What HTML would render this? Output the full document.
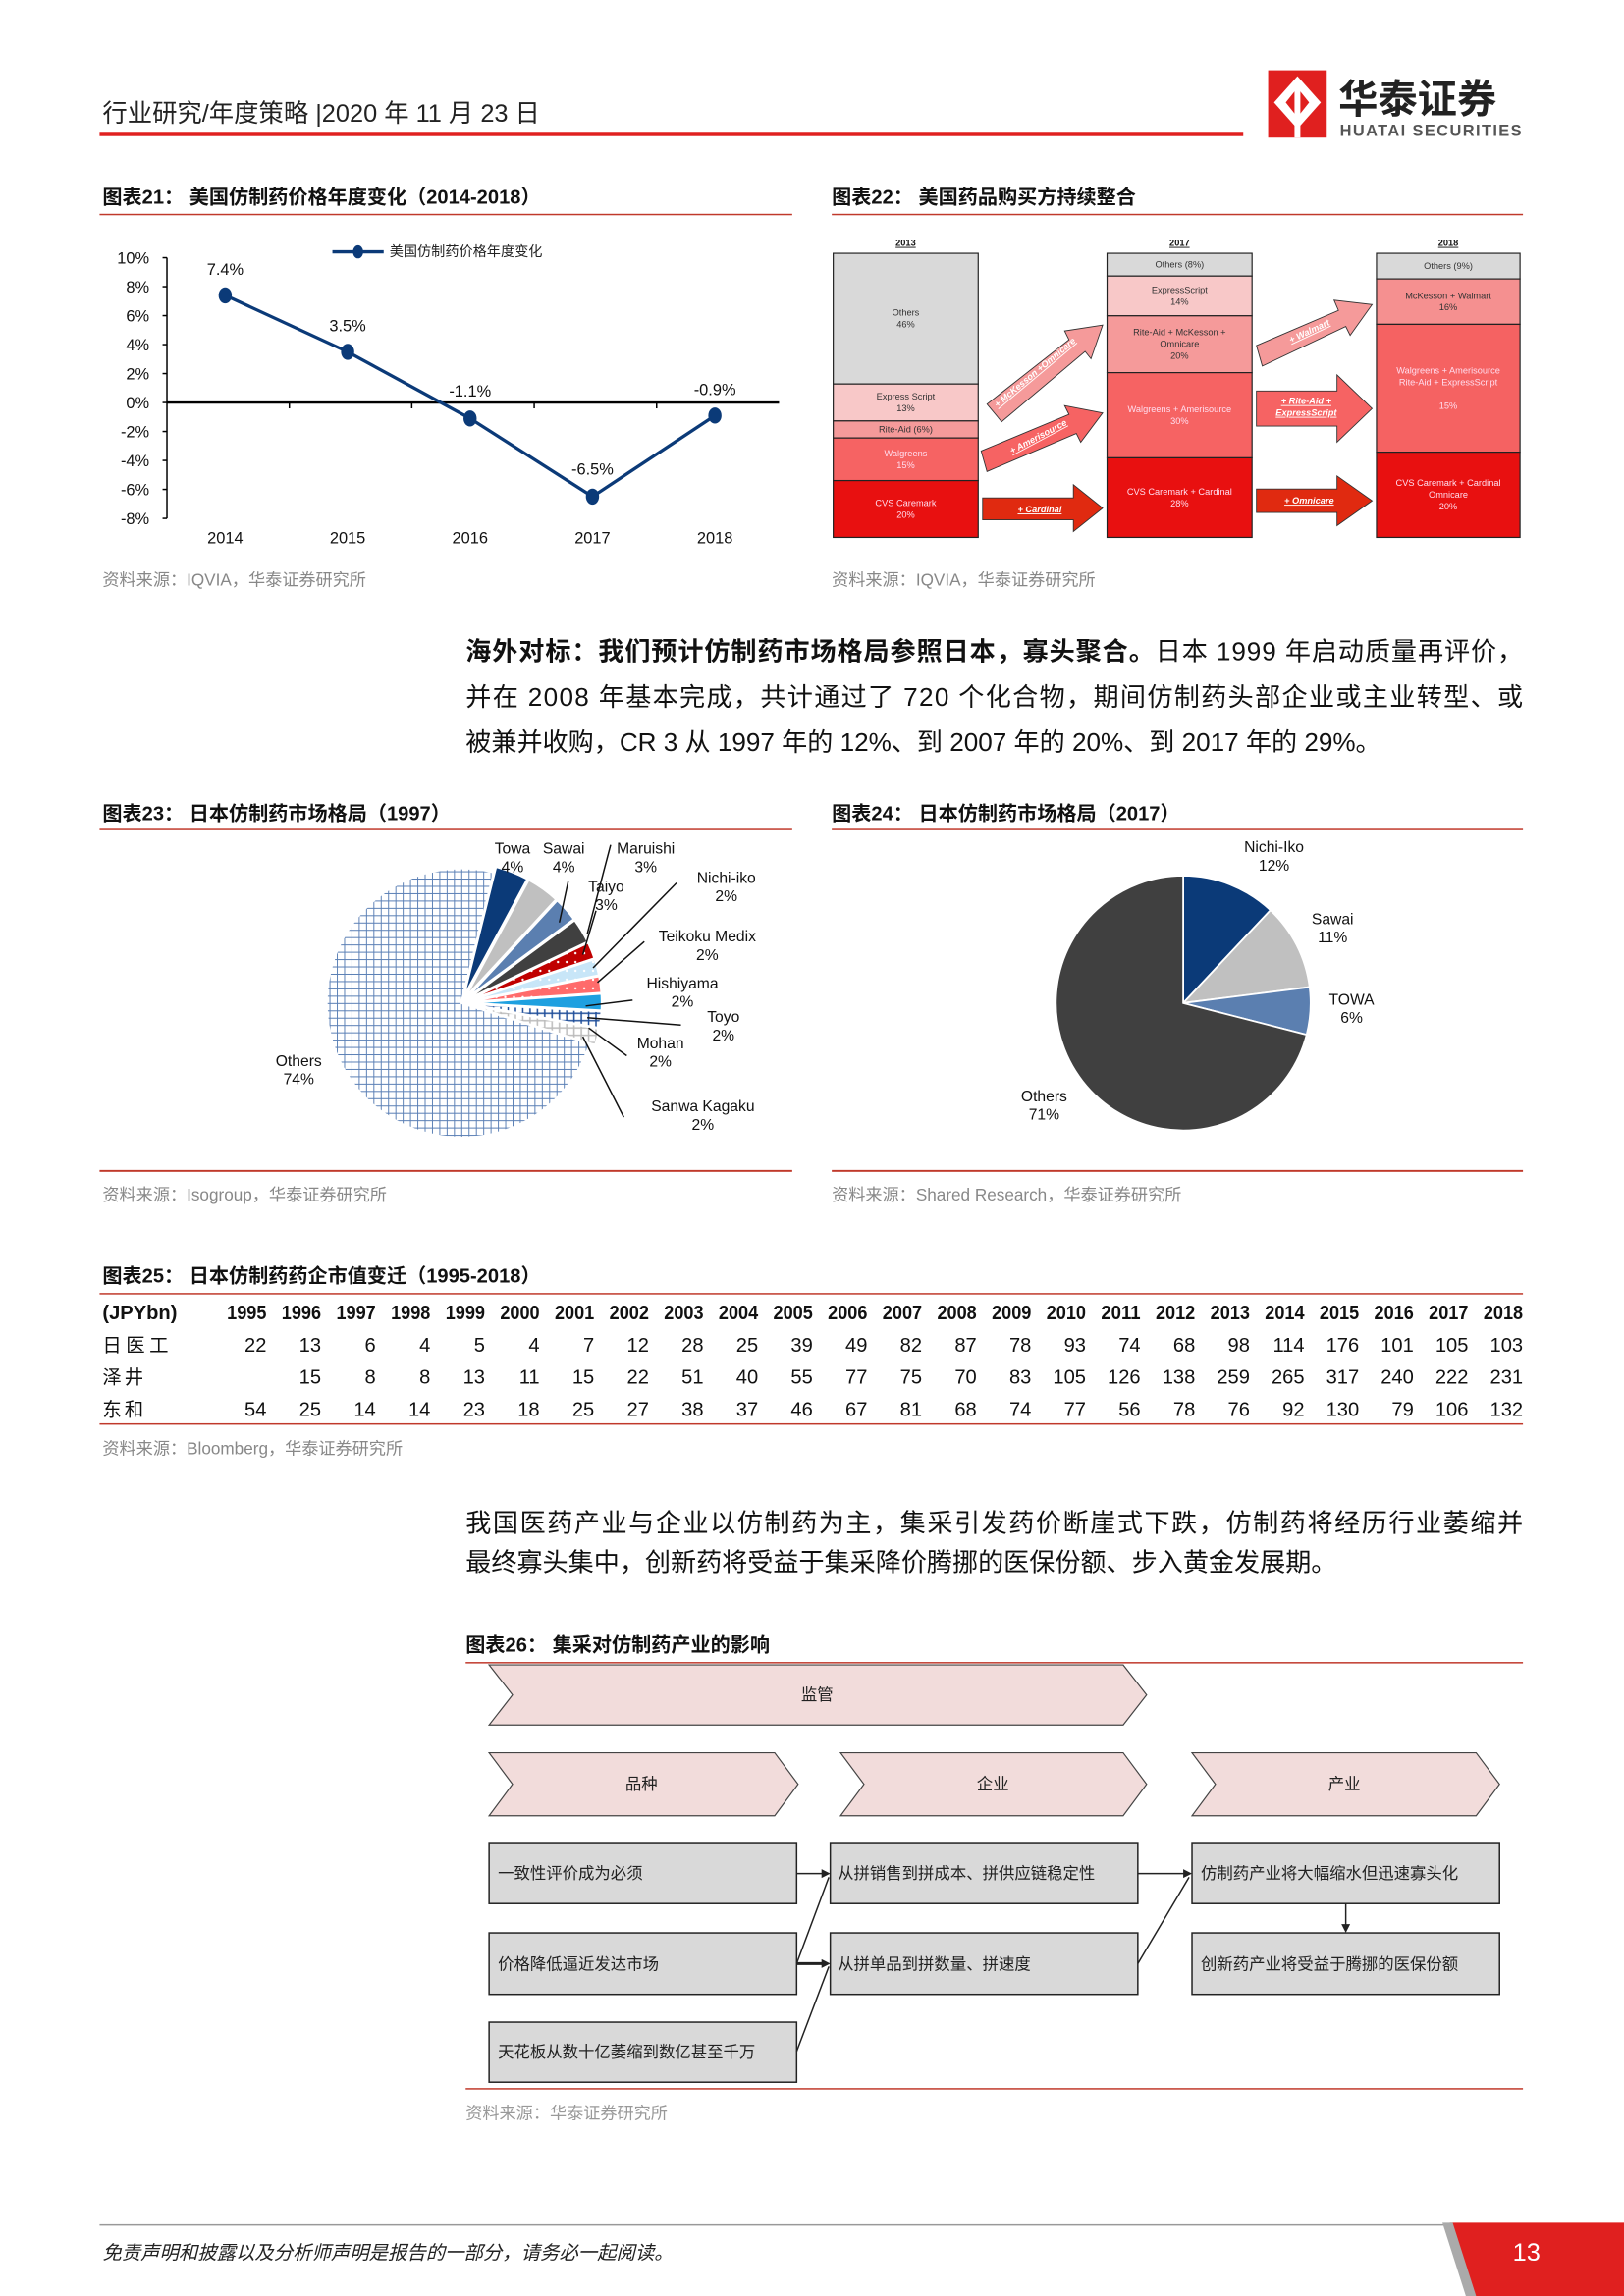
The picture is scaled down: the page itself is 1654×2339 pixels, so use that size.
<!DOCTYPE html>
<html><head><meta charset="utf-8">
<style>
html,body{margin:0;padding:0;background:#fff;}
svg{display:block;}
text{font-family:"Liberation Sans","Noto Sans CJK SC",sans-serif;}
</style></head>
<body>
<svg id="page" width="1654" height="2339" viewBox="0 0 1109 1568" preserveAspectRatio="none" xmlns="http://www.w3.org/2000/svg">
<defs>
  <pattern id="grid" width="5" height="5" patternUnits="userSpaceOnUse">
    <rect width="5" height="5" fill="#fff"/><path d="M0 0H5M0 0V5" stroke="#5a7fb5" stroke-width="1.3"/>
  </pattern>
  <pattern id="dotsRed" width="6" height="6" patternUnits="userSpaceOnUse"><rect width="6" height="6" fill="#c00000"/><circle cx="3" cy="3" r="0.8" fill="#fff"/></pattern>
  <pattern id="dotsPink" width="6" height="6" patternUnits="userSpaceOnUse"><rect width="6" height="6" fill="#ff6b6b"/><circle cx="3" cy="3" r="0.8" fill="#fff"/></pattern>
  <pattern id="dotsLb" width="6" height="6" patternUnits="userSpaceOnUse"><rect width="6" height="6" fill="#c8e6f8"/><circle cx="3" cy="3" r="0.8" fill="#fff"/></pattern>
  <pattern id="hBlue" width="5" height="5" patternUnits="userSpaceOnUse"><rect width="5" height="5" fill="#fff"/><path d="M0 2H5M2 0V5" stroke="#1f4e9a" stroke-width="1"/></pattern>
  <pattern id="hGray" width="5" height="5" patternUnits="userSpaceOnUse"><rect width="5" height="5" fill="#fff"/><path d="M0 2H5M2 0V5" stroke="#bbb" stroke-width="1"/></pattern>
</defs>

<!-- Header -->
<g>
  <text x="70" y="83" font-size="17" fill="#222">行业研究/年度策略 |2020 年 11 月 23 日</text>
  <rect x="68" y="90" width="781" height="3" fill="#e0201f"/>
  <g>
    <rect x="866" y="48" width="40" height="46" fill="#e0201f"/>
    <path d="M870 70 L886 52 L902 70 L886 88Z" fill="#fff"/>
    <path d="M878 70 L886 60 L894 70 L886 80Z" fill="#e0201f"/>
    <rect x="884" y="60" width="4" height="34" fill="#fff"/>
    <text x="914" y="77" font-size="27" font-weight="bold" fill="#222" font-family="'Noto Sans CJK SC',sans-serif">华泰证券</text>
    <text x="915" y="93" font-size="11" font-weight="bold" fill="#555" textLength="124">HUATAI SECURITIES</text>
  </g>
</g>

<!-- Fig 21 / 22 titles -->
<text x="70" y="139" font-size="13.5" font-weight="bold" fill="#111">图表21：  美国仿制药价格年度变化（2014-2018）</text>
<rect x="68" y="146" width="473" height="1" fill="#c0392b"/>
<text x="568" y="139" font-size="13.5" font-weight="bold" fill="#111">图表22：  美国药品购买方持续整合</text>
<rect x="568" y="146" width="472" height="1" fill="#c0392b"/>

<g id="lineChart"></g>

<!-- Fig 22 stacked columns -->
<g id="buyerChart" font-size="6.2"></g>

<text x="70" y="400" font-size="11.5" fill="#888">资料来源：IQVIA，华泰证券研究所</text>
<text x="568" y="400" font-size="11.5" fill="#888">资料来源：IQVIA，华泰证券研究所</text>

<!-- paragraph 1 -->
<g font-size="17.5" fill="#111">
  <text x="318" y="451" textLength="722" lengthAdjust="spacing"><tspan font-weight="bold">海外对标：我们预计仿制药市场格局参照日本，寡头聚合。</tspan>日本 1999 年启动质量再评价，</text>
  <text x="318" y="482" textLength="722" lengthAdjust="spacing">并在 2008 年基本完成，共计通过了 720 个化合物，期间仿制药头部企业或主业转型、或</text>
  <text x="318" y="513">被兼并收购，CR 3 从 1997 年的 12%、到 2007 年的 20%、到 2017 年的 29%。</text>
</g>

<text x="70" y="560" font-size="13.5" font-weight="bold" fill="#111">图表23：  日本仿制药市场格局（1997）</text>
<rect x="68" y="566" width="473" height="1" fill="#c0392b"/>
<text x="568" y="560" font-size="13.5" font-weight="bold" fill="#111">图表24：  日本仿制药市场格局（2017）</text>
<rect x="568" y="566" width="472" height="1" fill="#c0392b"/>

<g id="pie97"></g>
<g id="pie17"></g>

<rect x="68" y="799" width="473" height="1.3" fill="#c0392b"/>
<rect x="568" y="799" width="472" height="1.3" fill="#c0392b"/>
<text x="70" y="820" font-size="11.5" fill="#888">资料来源：Isogroup，华泰证券研究所</text>
<text x="568" y="820" font-size="11.5" fill="#888">资料来源：Shared Research，华泰证券研究所</text>

<text x="70" y="876" font-size="13.5" font-weight="bold" fill="#111">图表25：  日本仿制药药企市值变迁（1995-2018）</text>
<rect x="68" y="883" width="972" height="1" fill="#c0392b"/>
<g id="table25"></g>
<rect x="68" y="972" width="972" height="1" fill="#c0392b"/>
<text x="70" y="993" font-size="11.5" fill="#888">资料来源：Bloomberg，华泰证券研究所</text>

<g font-size="17.5" fill="#111">
  <text x="318" y="1046" textLength="722" lengthAdjust="spacing">我国医药产业与企业以仿制药为主，集采引发药价断崖式下跌，仿制药将经历行业萎缩并</text>
  <text x="318" y="1073">最终寡头集中，创新药将受益于集采降价腾挪的医保份额、步入黄金发展期。</text>
</g>

<text x="318" y="1128" font-size="13.5" font-weight="bold" fill="#111">图表26：  集采对仿制药产业的影响</text>
<rect x="318" y="1135" width="722" height="1" fill="#c0392b"/>

<g font-size="11" fill="#222">
  <g>
    <polygon points="334,1137 767,1137 783,1157.5 767,1178 334,1178 350,1157.5" fill="#f2dcdb" stroke="#444" stroke-width="0.8"/>
    <text x="558" y="1161" text-anchor="middle">监管</text>
  </g>
  <g>
    <polygon points="334,1197 529,1197 545,1218.5 529,1240 334,1240 350,1218.5" fill="#f2dcdb" stroke="#444" stroke-width="0.8"/>
    <text x="438" y="1222" text-anchor="middle">品种</text>
  </g>
  <g>
    <polygon points="574,1197 767,1197 783,1218.5 767,1240 574,1240 590,1218.5" fill="#f2dcdb" stroke="#444" stroke-width="0.8"/>
    <text x="678" y="1222" text-anchor="middle">企业</text>
  </g>
  <g>
    <polygon points="814,1197 1008,1197 1024,1218.5 1008,1240 814,1240 830,1218.5" fill="#f2dcdb" stroke="#444" stroke-width="0.8"/>
    <text x="918" y="1222" text-anchor="middle">产业</text>
  </g>
  <g stroke="#222" stroke-width="1" fill="#d9d9d9">
    <rect x="334" y="1259" width="210" height="41"/>
    <rect x="567" y="1259" width="210" height="41"/>
    <rect x="814" y="1259" width="210" height="41"/>
    <rect x="334" y="1320" width="210" height="42"/>
    <rect x="567" y="1320" width="210" height="42"/>
    <rect x="814" y="1320" width="210" height="42"/>
    <rect x="334" y="1381" width="210" height="41"/>
  </g>
  <text x="340" y="1283">一致性评价成为必须</text>
  <text x="572" y="1283">从拼销售到拼成本、拼供应链稳定性</text>
  <text x="820" y="1283">仿制药产业将大幅缩水但迅速寡头化</text>
  <text x="340" y="1345">价格降低逼近发达市场</text>
  <text x="572" y="1345">从拼单品到拼数量、拼速度</text>
  <text x="820" y="1345">创新药产业将受益于腾挪的医保份额</text>
  <text x="340" y="1405">天花板从数十亿萎缩到数亿甚至千万</text>
  <g stroke="#222" stroke-width="1" fill="none">
    <path d="M544 1279.5H564"/><path d="M544 1341H564" stroke-width="2"/>
    <path d="M544 1341L566 1282"/><path d="M544 1401L566 1343"/>
    <path d="M777 1279.5H811"/><path d="M777 1341L812 1282"/>
    <path d="M919 1300V1316"/>
  </g>
  <g fill="#222">
    <polygon points="567,1279.5 561,1276.5 561,1282.5"/>
    <polygon points="567,1341 561,1338 561,1344"/>
    <polygon points="814,1279.5 808,1276.5 808,1282.5"/>
    <polygon points="919,1320 916,1314 922,1314"/>
  </g>
</g>
<rect x="318" y="1426" width="722" height="1" fill="#c0392b"/>
<text x="318" y="1447" font-size="11.5" fill="#999">资料来源：华泰证券研究所</text>

<!-- footer -->
<g>
  <rect x="68" y="1519" width="925" height="1" fill="#999"/>
  <text x="70" y="1543" font-size="13" font-style="italic" fill="#222">免责声明和披露以及分析师声明是报告的一部分，请务必一起阅读。</text>
  <polygon points="990,1518 1109,1518 1109,1568 1006,1568" fill="#e0201f"/>
  <polygon points="985,1518 992,1518 1008,1568 1001,1568" fill="#aaa"/>
  <text x="1033" y="1544" font-size="17" fill="#fff">13</text>
</g>
</svg>

<script>
const NS='http://www.w3.org/2000/svg';
function mk(parent,tag,attrs,txt){const e=document.createElementNS(NS,tag);for(const k in attrs)e.setAttribute(k,attrs[k]);if(txt!==undefined)e.textContent=txt;parent.appendChild(e);return e;}

/* ---------- Fig 21 line chart ---------- */
const lineYears=['2014','2015','2016','2017','2018'];
const lineValues=[7.4,3.5,-1.1,-6.5,-0.9];
const lineYTicks=[10,8,6,4,2,0,-2,-4,-6,-8];
(function(){
  const g=document.getElementById('lineChart');
  const x0=114,x1=532,yTop=176,yBot=354,vMax=10,vMin=-8;
  const y=v=>yTop+(vMax-v)/(vMax-vMin)*(yBot-yTop);
  const step=(x1-x0)/lineYears.length;
  const x=i=>x0+step*(i+0.5)-2;
  mk(g,'line',{x1:x0,y1:yTop,x2:x0,y2:yBot,stroke:'#000','stroke-width':1});
  lineYTicks.forEach(t=>{
    mk(g,'line',{x1:x0-3,y1:y(t),x2:x0,y2:y(t),stroke:'#000','stroke-width':1});
    const tl=mk(g,'text',{x:x0-12,y:y(t)+4,'font-size':11,'text-anchor':'end',fill:'#111'},t+'%');
    
    
  });
  mk(g,'line',{x1:x0,y1:y(0),x2:x1,y2:y(0),stroke:'#000','stroke-width':1.6});
  for(let i=1;i<lineYears.length;i++)mk(g,'line',{x1:x0+step*i,y1:y(0),x2:x0+step*i,y2:y(0)+4,stroke:'#000','stroke-width':1});
  lineYears.forEach((yr,i)=>{
    const t=mk(g,'text',{x:x(i),y:371,'font-size':11,'text-anchor':'middle',fill:'#111'},yr);
    
    
  });
  const pts=lineValues.map((v,i)=>x(i)+','+y(v)).join(' ');
  const pl=mk(g,'polyline',{points:pts,fill:'none',stroke:'#0b3a78','stroke-width':2.2});
  
  
  lineValues.forEach((v,i)=>{
    const c=mk(g,'ellipse',{cx:x(i),cy:y(v),rx:4.5,ry:5.5,fill:'#0b3a78'});
    
    
    const lbl=mk(g,'text',{x:x(i),y:y(v)-(i===2||i===3?-4:14),'font-size':11,'text-anchor':'middle',fill:'#111'},v.toFixed(1)+'%');
    if(i===2){lbl.setAttribute('x',x(i));lbl.setAttribute('y',y(v)-15);}
    if(i===3){lbl.setAttribute('y',y(v)-15);}
    
    
  });
  const lg=mk(g,'g',{});
  
  
  mk(lg,'line',{x1:227,y1:172,x2:262,y2:172,stroke:'#0b3a78','stroke-width':2.2});
  mk(lg,'ellipse',{cx:244.5,cy:172,rx:3.5,ry:4.5,fill:'#0b3a78'});
  mk(lg,'text',{x:266,y:175,'font-size':9.5,fill:'#222'},'美国仿制药价格年度变化');
})();

/* ---------- Fig 22 stacked columns ---------- */
const buyerYears=['2013','2017','2018'];
const buyerShares2013=[46,13,6,15,20];
const buyerShares2017=[8,14,20,30,28];
const buyerShares2018=[9,16,45,30];
(function(){
  const g=document.getElementById('buyerChart');
  const top=173,bot=367,H=bot-top;
  const cols=[
    {x:569,w:99,shares:buyerShares2013,fills:['#d9d9d9','#f8c8c8','#f59a9a','#f66363','#e81010'],
     labels:[['Others','46%'],['Express Script','13%'],['Rite-Aid (6%)'],['Walgreens','15%'],['CVS Caremark','20%']],tc:['#333','#333','#333','#fde','#fde']},
    {x:756,w:99,shares:buyerShares2017,fills:['#d9d9d9','#f8c8c8','#f59a9a','#f66363','#e81010'],
     labels:[['Others (8%)'],['ExpressScript','14%'],['Rite-Aid + McKesson +','Omnicare','20%'],['Walgreens + Amerisource','30%'],['CVS Caremark + Cardinal','28%']],tc:['#333','#333','#333','#fde','#fde']},
    {x:940,w:98,shares:buyerShares2018,fills:['#d9d9d9','#f59090','#f56262','#e81010'],
     labels:[['Others (9%)'],['McKesson + Walmart','16%'],['Walgreens + Amerisource','Rite-Aid + ExpressScript','','15%'],['CVS Caremark + Cardinal','Omnicare','20%']],tc:['#333','#333','#fde','#fde']}
  ];
  // 2018 segment heights drawn proportional to visual shares
  cols.forEach((c,ci)=>{
    const t=mk(g,'text',{x:c.x+c.w/2,y:top-5,'text-anchor':'middle','font-weight':'bold','text-decoration':'underline',fill:'#111'},buyerYears[ci]);
    
    
    const total=c.shares.reduce((a,b)=>a+b,0);
    let yy=top;
    c.shares.forEach((s,i)=>{
      const h=s/total*H;
      const r=mk(g,'rect',{x:c.x,y:yy,width:c.w,height:h,fill:c.fills[i],stroke:'#222','stroke-width':0.8});
      
      
      const L=c.labels[i];const ly=yy+h/2-(L.length-1)*4+2;
      L.forEach((ln,k)=>mk(g,'text',{x:c.x+c.w/2,y:ly+k*8,'text-anchor':'middle',fill:c.tc[i]},ln));
      yy+=h;
    });
  });
  const arrows=[
    {p:'674,276 730,232 727,226 753,222 745,245 741,240 684,288',f:'#f59a9a',t:'+ McKesson +Omnicare',tx:708,ty:256,rot:-40},
    {p:'670,308 730,283 727,277 753,282 738,302 735,296 674,322',f:'#f66363',t:'+ Amerisource',tx:710,ty:300,rot:-28},
    {p:'671,340 733,340 733,331 753,347 733,363 733,355 671,355',f:'#e02a10',t:'+ Cardinal',tx:710,ty:350,rot:0},
    {p:'858,236 914,212 911,205 937,208 922,229 919,223 862,250',f:'#f59a9a',t:'+ Walmart',tx:895,ty:228,rot:-25},
    {p:'858,267 913,267 913,256 937,279 913,302 913,291 858,291',f:'#f66363',t:'+ Rite-Aid +',t2:'ExpressScript',tx:892,ty:276,rot:0},
    {p:'858,334 913,334 913,325 937,342 913,359 913,350 858,350',f:'#e02a10',t:'+ Omnicare',tx:894,ty:344,rot:0}
  ];
  arrows.forEach(a=>{
    const ag=mk(g,'g',{});
    
    
    mk(ag,'polygon',{points:a.p,fill:a.f,stroke:'#333','stroke-width':0.6});
    const tt=mk(ag,'text',{x:a.tx,y:a.ty,'text-anchor':'middle',fill:'#fff','font-weight':'bold','font-style':'italic','text-decoration':'underline',transform:'rotate('+a.rot+' '+a.tx+' '+a.ty+')'},a.t);
    if(a.t2)mk(ag,'text',{x:a.tx,y:a.ty+8,'text-anchor':'middle',fill:'#fff','font-weight':'bold','font-style':'italic','text-decoration':'underline'},a.t2);
  });
})();

/* ---------- Fig 23 pie 1997 ---------- */
const pie97Labels=['Towa','Sawai','Maruishi','Taiyo','Nichi-iko','Teikoku Medix','Hishiyama','Toyo','Mohan','Sanwa Kagaku','Others'];
const pie97Values=[4,4,3,3,2,2,2,2,2,2,74];
/* ---------- Fig 24 pie 2017 ---------- */
const pie17Labels=['Nichi-Iko','Sawai','TOWA','Others'];
const pie17Values=[12,11,6,71];

function arcPath(cx,cy,r,a0,a1){
  const p=a=>[cx+r*Math.sin(a),cy-r*Math.cos(a)];
  const [x0,y0]=p(a0),[x1,y1]=p(a1);
  return `M${cx},${cy}L${x0},${y0}A${r},${r} 0 ${a1-a0>Math.PI?1:0} 1 ${x1},${y1}Z`;
}
(function(){
  const g=document.getElementById('pie97');
  const fills=['#0b3a78','#c0c0c0','#5b7fb0','#404040','url(#dotsRed)','url(#dotsLb)','url(#dotsPink)','#1ea0e0','url(#hBlue)','url(#hGray)','url(#grid)'];
  const cx=315,cy=685,r=92;
  const total=pie97Values.reduce((a,b)=>a+b,0);
  let a=14*Math.PI/180;
  const mids=[];
  pie97Values.forEach((v,i)=>{
    const da=v/total*2*Math.PI;
    const mid=a+da/2;mids.push(mid);
    const off=i<10?4:0;
    const ox=cx+off*Math.sin(mid),oy=cy-off*Math.cos(mid);
    const s=mk(g,'path',{d:arcPath(ox,oy,r,a,a+da),fill:fills[i],stroke:'#fff','stroke-width':1.5});
    
    
    a+=da;
  });
  const lab=[[350,583],[385,583],[441,583],[414,609],[496,603],[483,643],[466,675],[494,698],[451,716],[480,759],[204,728]];
  const lines=[null,'388,602 382,630','417,577 401,638','407,622 398,652','462,603 405,661','440,643 408,671','432,683 400,687','465,700 401,695','428,721 402,702','426,763 398,708',null];
  lab.forEach((p,i)=>{
    const t=mk(g,'text',{x:p[0],y:p[1],'font-size':10.5,'text-anchor':'middle',fill:'#111'});
    mk(t,'tspan',{x:p[0],dy:0},pie97Labels[i]);
    mk(t,'tspan',{x:p[0],dy:12.5},Math.round(pie97Values[i]/total*100)+'%');
    
    
    if(lines[i])mk(g,'polyline',{points:lines[i],fill:'none',stroke:'#111','stroke-width':1});
  });
})();
(function(){
  const g=document.getElementById('pie17');
  const fills=['#0b3a78','#c0c0c0','#5b7fb0','#404040'];
  const cx=808,cy=685,r=87;
  const total=pie17Values.reduce((a,b)=>a+b,0);
  let a=0;
  pie17Values.forEach((v,i)=>{
    const da=v/total*2*Math.PI;
    const s=mk(g,'path',{d:arcPath(cx,cy,r,a,a+da),fill:fills[i],stroke:'#fff','stroke-width':1.2});
    
    
    a+=da;
  });
  const lab=[[870,582],[910,631],[923,686],[713,752]];
  lab.forEach((p,i)=>{
    const t=mk(g,'text',{x:p[0],y:p[1],'font-size':10.5,'text-anchor':'middle',fill:'#111'});
    mk(t,'tspan',{x:p[0],dy:0},pie17Labels[i]);
    mk(t,'tspan',{x:p[0],dy:12.5},Math.round(pie17Values[i]/total*100)+'%');
    
    
  });
})();

/* ---------- Fig 25 table ---------- */
const tableYears=[1995,1996,1997,1998,1999,2000,2001,2002,2003,2004,2005,2006,2007,2008,2009,2010,2011,2012,2013,2014,2015,2016,2017,2018];
const rowNames=['日医工','泽井','东和'];
const rowNichiiko=[22,13,6,4,5,4,7,12,28,25,39,49,82,87,78,93,74,68,98,114,176,101,105,103];
const rowSawai=[null,15,8,8,13,11,15,22,51,40,55,77,75,70,83,105,126,138,259,265,317,240,222,231];
const rowTowa=[54,25,14,14,23,18,25,27,38,37,46,67,81,68,74,77,56,78,76,92,130,79,106,132];
(function(){
  const g=document.getElementById('table25');
  const xr=i=>182+i*(1040-182)/(tableYears.length-1);
  const h=mk(g,'text',{x:70,y:901,'font-size':13.5,'font-weight':'bold',fill:'#111'},'(JPYbn)');
  
  
  tableYears.forEach((yr,i)=>{
    const t=mk(g,'text',{x:xr(i),y:901,'font-size':13.5,'font-weight':'bold','text-anchor':'end',fill:'#111',textLength:27,lengthAdjust:'spacingAndGlyphs'},yr);
    
    
  });
  [rowNichiiko,rowSawai,rowTowa].forEach((row,r)=>{
    const y=923+r*22;
    const n=mk(g,'text',{x:70,y:y,'font-size':13,fill:'#111','letter-spacing':r===0?3:2},rowNames[r]);
    
    
    row.forEach((v,i)=>{
      if(v===null)return;
      const t=mk(g,'text',{x:xr(i),y:y,'font-size':13.5,'text-anchor':'end',fill:'#111'},v);
      
      
    });
  });
})();
</script>
</body></html>
